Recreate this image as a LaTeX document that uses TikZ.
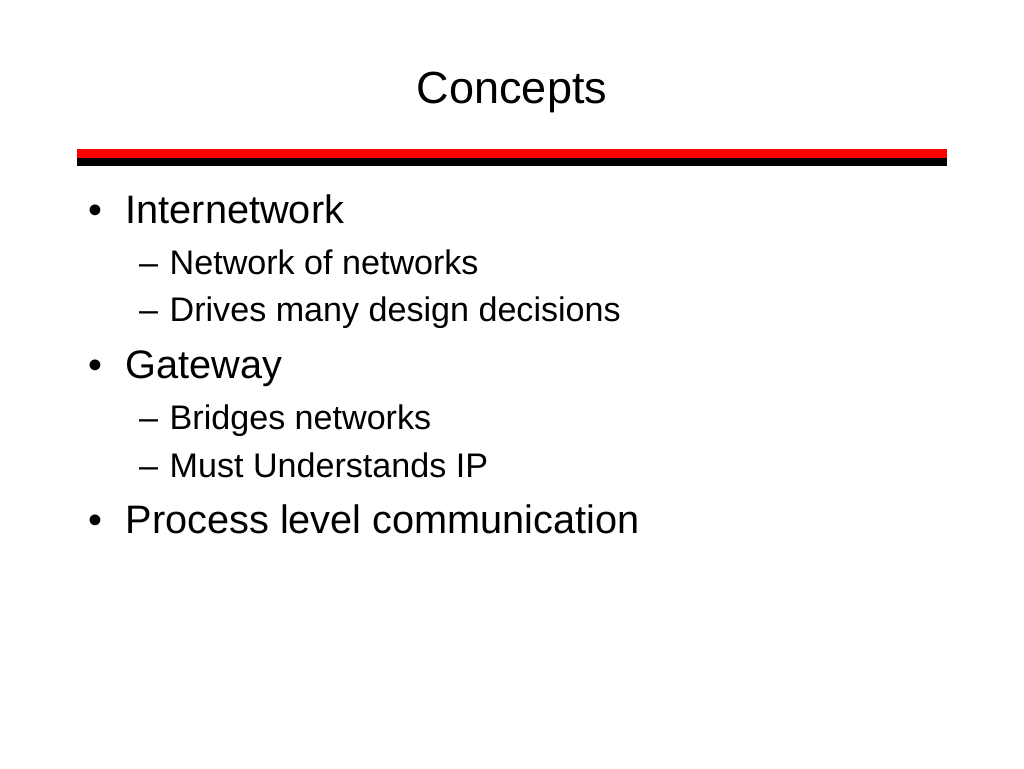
\documentclass[tikz,border=0pt]{standalone}
\usepackage{fontspec}
\setmainfont{Liberation Sans}
\begin{document}
\begin{tikzpicture}[x=1pt,y=-1pt,
  titletext/.style={inner sep=0pt,anchor=base,font=\fontsize{45}{47}\selectfont},
  lvlone/.style={inner sep=0pt,anchor=base west,font=\fontsize{39.7}{42}\selectfont},
  lvltwo/.style={inner sep=0pt,anchor=base west,font=\fontsize{34.1}{36}\selectfont}]
\useasboundingbox[fill=white] (0,0) rectangle (1024,768);
\node[titletext] (title) at (512,103) {Concepts};
\fill[red] (76.7,149.3) rectangle (947,157.7);
\fill[black] (76.7,157.7) rectangle (947,166);
\node[lvlone] (b1) at (88.5,223.3) {•};
\node[lvlone] (t1) at (125.5,223.3) {Internetwork};
\node[lvltwo] (d1) at (139,274.3) {–};
\node[lvltwo] (s1) at (169.5,274.3) {Network of networks};
\node[lvltwo] (d2) at (139,321.7) {–};
\node[lvltwo] (s2) at (169.5,321.7) {Drives many design decisions};
\node[lvlone] (b2) at (88.5,378.3) {•};
\node[lvlone] (t2) at (125.5,378.3) {Gateway};
\node[lvltwo] (d3) at (139,429.3) {–};
\node[lvltwo] (s3) at (169.5,429.3) {Bridges networks};
\node[lvltwo] (d4) at (139,477.7) {–};
\node[lvltwo] (s4) at (169.5,477.7) {Must Understands IP};
\node[lvlone] (b3) at (88.5,533.3) {•};
\node[lvlone] (t3) at (125.5,533.3) {Process level communication};
\end{tikzpicture}
\end{document}
